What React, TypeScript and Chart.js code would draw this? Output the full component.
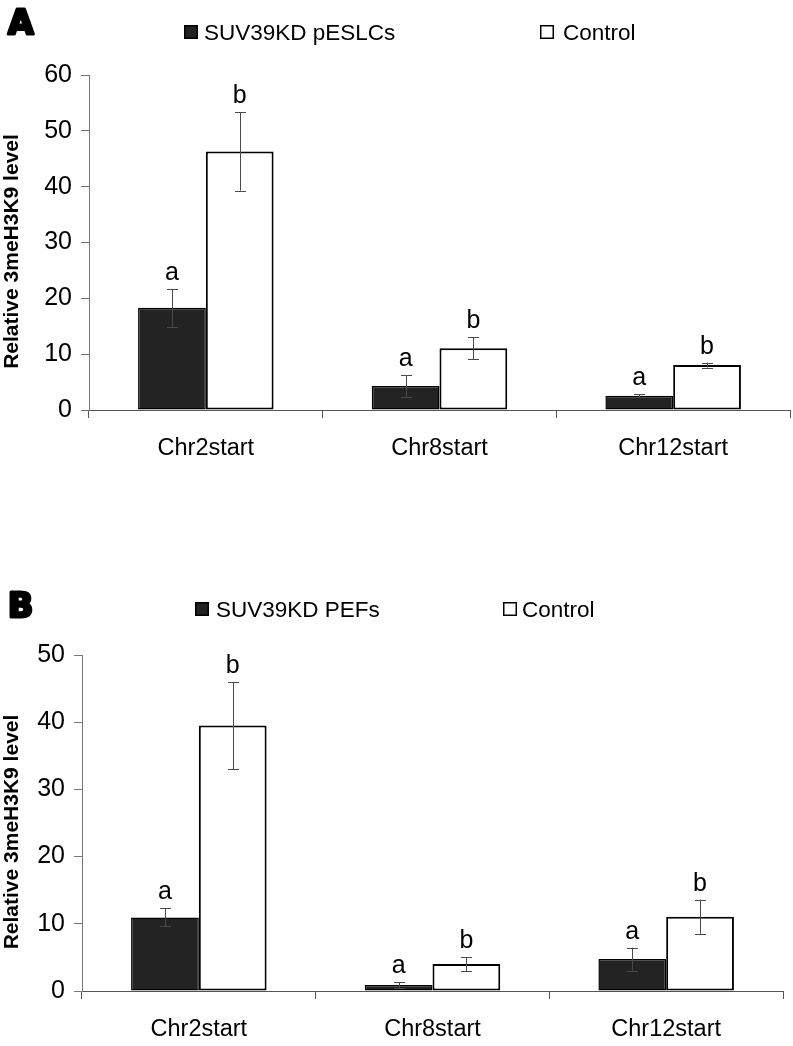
import React, { useEffect, useRef } from 'react';
import { Chart, registerables } from 'chart.js';

Chart.register(...registerables);

const FONT = '"Liberation Sans", Arial, Helvetica, sans-serif';

// ---------- data ----------
const categories = ['Chr2start', 'Chr8start', 'Chr12start'];
const yTitle = 'Relative 3meH3K9 level';

const aLabels = ['SUV39KD pESLCs', 'Control'];
const aKD = [18.3, 4.3, 2.55];
const aKDErr = [3.4, 1.9, 0.3];
const aCtrl = [46.3, 11.05, 8.05];
const aCtrlErr = [7.0, 2.0, 0.45];
const aKDLetters = ['a', 'a', 'a'];
const aCtrlLetters = ['b', 'b', 'b'];
const aYMax = 60;

const bLabels = ['SUV39KD PEFs', 'Control'];
const bKD = [10.95, 0.9, 4.75];
const bKDErr = [1.35, 0.45, 1.7];
const bCtrl = [39.5, 4.0, 11.05];
const bCtrlErr = [6.5, 1.05, 2.55];
const bKDLetters = ['a', 'a', 'a'];
const bCtrlLetters = ['b', 'b', 'b'];
const bYMax = 50;

const yStep = 10;

type PanelCfg = {
  letter: string;
  labels: string[];
  kd: number[];
  kdErr: number[];
  ctrl: number[];
  ctrlErr: number[];
  kdLetters: string[];
  ctrlLetters: string[];
  yMax: number;
  top: number;
  height: number;
  padTop: number;
  padRight: number;
  yWidth: number;
  xHeight: number;
  legendX: number[];
  legendTextX: number[];
  legendBase: number;
  letterBase: number;
};

const decorPlugin = {
  id: 'decor',
  afterDatasetsDraw(chart: any, _args: any, opts: any) {
    const ctx = chart.ctx;
    const ys = chart.scales.y;
    chart.data.datasets.forEach((ds: any, i: number) => {
      const meta = chart.getDatasetMeta(i);
      meta.data.forEach((bar: any, j: number) => {
        const v = ds.data[j];
        const e = opts.errors[i][j];
        const yt = ys.getPixelForValue(v + e);
        const yb = ys.getPixelForValue(v - e);
        const x = Math.round(bar.x) + 0.5;
        ctx.save();
        ctx.strokeStyle = '#4a4a4a';
        ctx.lineWidth = 1;
        ctx.beginPath();
        ctx.moveTo(x, yt);
        ctx.lineTo(x, yb);
        ctx.moveTo(x - 5.5, Math.round(yt) + 0.5);
        ctx.lineTo(x + 5.5, Math.round(yt) + 0.5);
        ctx.moveTo(x - 5.5, Math.round(yb) + 0.5);
        ctx.lineTo(x + 5.5, Math.round(yb) + 0.5);
        ctx.stroke();
        ctx.fillStyle = '#000';
        ctx.font = '25px ' + FONT;
        ctx.textAlign = 'center';
        ctx.textBaseline = 'alphabetic';
        ctx.fillText(opts.letters[i][j], bar.x, yt - 9);
        ctx.restore();
      });
    });
  },
  afterDraw(chart: any, _args: any, opts: any) {
    const ctx = chart.ctx;
    const area = chart.chartArea;
    ctx.save();
    // y title
    ctx.translate(18, (area.top + area.bottom) / 2 + 9);
    ctx.rotate(-Math.PI / 2);
    ctx.font = 'bold 21px ' + FONT;
    ctx.fillStyle = '#000';
    ctx.textAlign = 'center';
    ctx.textBaseline = 'alphabetic';
    ctx.fillText(opts.title, 0, 0);
    ctx.restore();

    // legend
    ctx.save();
    chart.data.datasets.forEach((ds: any, i: number) => {
      const bx = opts.legendX[i];
      const by = opts.legendBase - 15;
      ctx.fillStyle = ds.backgroundColor;
      ctx.fillRect(bx, by, 14, 14);
      ctx.strokeStyle = '#000';
      ctx.lineWidth = 1.5;
      ctx.strokeRect(bx + 0.75, by + 0.75, 12.5, 12.5);
      ctx.fillStyle = '#000';
      ctx.font = '22.5px ' + FONT;
      ctx.textAlign = 'left';
      ctx.textBaseline = 'alphabetic';
      ctx.fillText(ds.label, opts.legendTextX[i], opts.legendBase);
    });
    ctx.restore();

    // panel letter
    ctx.save();
    ctx.font = 'bold 33px "DejaVu Sans", sans-serif';
    ctx.fillStyle = '#000';
    ctx.strokeStyle = '#000';
    ctx.lineWidth = 3;
    ctx.lineJoin = 'round';
    ctx.textAlign = 'left';
    ctx.textBaseline = 'alphabetic';
    ctx.strokeText(opts.letter, 8, opts.letterBase);
    ctx.fillText(opts.letter, 8, opts.letterBase);
    ctx.restore();
  },
};

function Panel({ cfg }: { cfg: PanelCfg }) {
  const ref = useRef<HTMLCanvasElement | null>(null);
  useEffect(() => {
    if (!ref.current) return;
    const chart = new Chart(ref.current, {
      type: 'bar',
      data: {
        labels: categories,
        datasets: [
          {
            label: cfg.labels[0],
            data: cfg.kd,
            backgroundColor: '#232323',
            borderColor: '#000',
            borderWidth: 1.5,
            borderSkipped: false,
            categoryPercentage: 0.58,
            barPercentage: 1,
          },
          {
            label: cfg.labels[1],
            data: cfg.ctrl,
            backgroundColor: '#ffffff',
            borderColor: '#000',
            borderWidth: 2,
            borderSkipped: false,
            categoryPercentage: 0.58,
            barPercentage: 1,
          },
        ],
      },
      options: {
        animation: false,
        responsive: false,
        maintainAspectRatio: false,
        layout: { padding: { top: cfg.padTop, right: cfg.padRight, left: 0, bottom: 0 } },
        plugins: {
          legend: { display: false },
          tooltip: { enabled: false },
          decor: {
            errors: [cfg.kdErr, cfg.ctrlErr],
            letters: [cfg.kdLetters, cfg.ctrlLetters],
            title: yTitle,
            letter: cfg.letter,
            legendX: cfg.legendX,
            legendTextX: cfg.legendTextX,
            legendBase: cfg.legendBase,
            letterBase: cfg.letterBase,
          },
        } as any,
        scales: {
          x: {
            grid: {
              display: true,
              drawOnChartArea: false,
              drawTicks: true,
              tickLength: 8,
              color: '#555',
              offset: true,
            },
            border: { display: true, color: '#555', width: 1 },
            ticks: {
              color: '#000',
              font: { family: FONT, size: 23.5 },
              padding: 16,
              maxRotation: 0,
              autoSkip: false,
            },
            afterFit: (s: any) => {
              s.height = cfg.xHeight;
            },
          },
          y: {
            min: 0,
            max: cfg.yMax,
            ticks: {
              stepSize: yStep,
              color: '#000',
              font: { family: FONT, size: 25 },
              padding: 9,
            },
            grid: {
              display: true,
              drawOnChartArea: false,
              drawTicks: true,
              tickLength: 8,
              color: '#777',
            },
            border: { display: true, color: '#777', width: 1 },
            afterFit: (s: any) => {
              s.width = cfg.yWidth;
            },
          },
        },
      },
      plugins: [decorPlugin as any],
    });
    return () => chart.destroy();
  }, [cfg]);
  return (
    <canvas
      ref={ref}
      width={793}
      height={cfg.height}
      style={{ position: 'absolute', left: 0, top: cfg.top, width: 793, height: cfg.height, display: 'block' }}
    />
  );
}

const panelA: PanelCfg = {
  letter: 'A',
  labels: aLabels,
  kd: aKD,
  kdErr: aKDErr,
  ctrl: aCtrl,
  ctrlErr: aCtrlErr,
  kdLetters: aKDLetters,
  ctrlLetters: aCtrlLetters,
  yMax: aYMax,
  top: 0,
  height: 480,
  padTop: 75,
  padRight: 3,
  yWidth: 89,
  xHeight: 70,
  legendX: [184, 540],
  legendTextX: [204, 563],
  legendBase: 40,
  letterBase: 34,
};

const panelB: PanelCfg = {
  letter: 'B',
  labels: bLabels,
  kd: bKD,
  kdErr: bKDErr,
  ctrl: bCtrl,
  ctrlErr: bCtrlErr,
  kdLetters: bKDLetters,
  ctrlLetters: bCtrlLetters,
  yMax: bYMax,
  top: 570,
  height: 476,
  padTop: 85,
  padRight: 10,
  yWidth: 82,
  xHeight: 55,
  legendX: [195, 503],
  legendTextX: [216, 522],
  legendBase: 47,
  letterBase: 47,
};

export default function App() {
  return (
    <div
      style={{
        position: 'absolute',
        left: 0,
        top: 0,
        width: 793,
        height: 1046,
        background: '#fff',
        overflow: 'hidden',
      }}
    >
      <Panel cfg={panelA} />
      <Panel cfg={panelB} />
    </div>
  );
}
